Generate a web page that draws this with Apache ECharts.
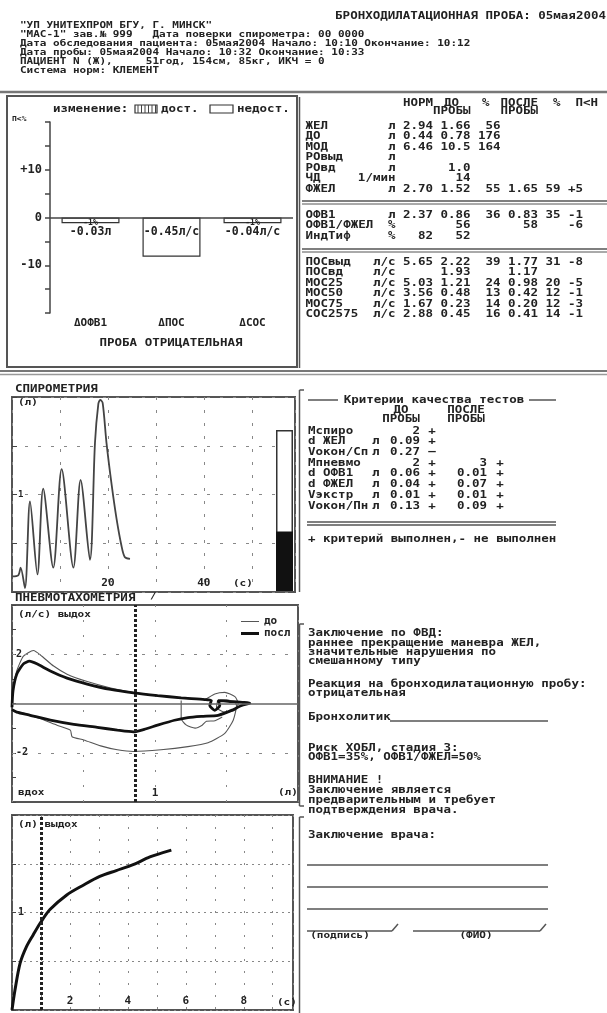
<!DOCTYPE html>
<html><head><meta charset="utf-8">
<script src="https://cdn.jsdelivr.net/npm/echarts@6/dist/echarts.min.js"></script>
<style>html,body{margin:0;padding:0;background:#fff}#c{width:607px;height:1013px}</style>
</head><body><div id="c"></div>
<script>
// ---------------- DATA ----------------
const headerTitle = 'БРОНХОДИЛАТАЦИОННАЯ ПРОБА: 05мая2004';
const headerLines = [
  '"УП УНИТЕХПРОМ БГУ, Г. МИНСК"',
  '"МАС-1" зав.№ 999   Дата поверки спирометра: 00 0000',
  'Дата обследования пациента: 05мая2004 Начало: 10:10 Окончание: 10:12',
  'Дата пробы: 05мая2004 Начало: 10:32 Окончание: 10:33',
  'ПАЦИЕНТ N (Ж),     51год, 154см, 85кг, ИКЧ = 0',
  'Система норм: КЛЕМЕНТ'
];
const barCats = ['ΔОФВ1', 'ΔПОС', 'ΔСОС'];
const barVals = [-1.2, -8.2, -1.2];
const barPct = ['-1%', '', '-1%'];
const barAbs = ['-0.03л', '-0.45л/с', '-0.04л/с'];
const barTicks = {'10': '+10', '0': '0', '-10': '-10'};

const tblHead1 = ['НОРМ', 'ДО', '%', 'ПОСЛЕ', '%', 'П<Н'];
const tblHead2 = ['ПРОБЫ', 'ПРОБЫ'];
const tblRowsA = [
  ['ЖЕЛ', 'л', '2.94', '1.66', '56', '', '', ''],
  ['ДО', 'л', '0.44', '0.78', '176', '', '', ''],
  ['МОД', 'л', '6.46', '10.5', '164', '', '', ''],
  ['РОвыд', 'л', '', '', '', '', '', ''],
  ['РОвд', 'л', '', '1.0', '', '', '', ''],
  ['ЧД', '1/мин', '', '14', '', '', '', ''],
  ['ФЖЕЛ', 'л', '2.70', '1.52', '55', '1.65', '59', '+5']
];
const tblRowsB = [
  ['ОФВ1', 'л', '2.37', '0.86', '36', '0.83', '35', '-1'],
  ['ОФВ1/ФЖЕЛ', '%', '', '56', '', '58', '', '-6'],
  ['ИндТиф', '%', '82', '52', '', '', '', '']
];
const tblRowsC = [
  ['ПОСвыд', 'л/с', '5.65', '2.22', '39', '1.77', '31', '-8'],
  ['ПОСвд', 'л/с', '', '1.93', '', '1.17', '', ''],
  ['МОС25', 'л/с', '5.03', '1.21', '24', '0.98', '20', '-5'],
  ['МОС50', 'л/с', '3.56', '0.48', '13', '0.42', '12', '-1'],
  ['МОС75', 'л/с', '1.67', '0.23', '14', '0.20', '12', '-3'],
  ['СОС2575', 'л/с', '2.88', '0.45', '16', '0.41', '14', '-1']
];
const critTitle = 'Критерии качества тестов';
const critHead = ['ДО', 'ПРОБЫ', 'ПОСЛЕ', 'ПРОБЫ'];
const critRows = [
  ['Мспиро', '', '2', '+', '', ''],
  ['d ЖЕЛ', 'л', '0.09', '+', '', ''],
  ['Vокон/Сп', 'л', '0.27', '—', '', ''],
  ['Мпневмо', '', '2', '+', '3', '+'],
  ['d ОФВ1', 'л', '0.06', '+', '0.01', '+'],
  ['d ФЖЕЛ', 'л', '0.04', '+', '0.07', '+'],
  ['Vэкстр', 'л', '0.01', '+', '0.01', '+'],
  ['Vокон/Пн', 'л', '0.13', '+', '0.09', '+']
];
const critNote = '+ критерий выполнен,- не выполнен';
const conclLines = [
  'Заключение по ФВД:', 'раннее прекращение маневра ЖЕЛ,', 'значительные нарушения по', 'смешанному типу',
  'Реакция на бронходилатационную пробу:', 'отрицательная', 'Бронхолитик',
  'Риск ХОБЛ, стадия 3:', 'ОФВ1=35%, ОФВ1/ФЖЕЛ=50%',
  'ВНИМАНИЕ !', 'Заключение является', 'предварительным и требует', 'подтверждения врача.'
];
const doctorTexts = ['Заключение врача:', '(подпись)', '(ФИО)'];
const loopNames = ['до', 'посл'];

// spirometry: time (s) and volume (l)
const spiroT = [0.1, 1.3, 1.8, 2.7, 3.75, 5.3, 6.5, 8.6, 10.35, 12.8, 14.3, 16.25, 17.3, 18.0, 18.4, 18.9, 19.7, 20.8, 21.8, 22.8, 23.5, 24.6];
const spiroV = [0.16, 0.17, 0.25, 0.04, 0.93, 0.18, 1.06, 0.25, 1.26, 0.25, 1.15, 0.33, 1.53, 1.93, 1.97, 1.94, 1.53, 1.09, 0.75, 0.48, 0.36, 0.34];
const spiroLevel = [0.37];

// flow-volume loops: [volume l, flow l/s]
const loopDo = [
  [0.00,-0.01],[0.007,0.52],[0.033,1.32],[0.08,1.92],[0.15,2.15],[0.209,1.92],[0.291,1.52],[0.385,1.19],[0.526,0.89],
  [0.69,0.63],[0.85,0.45],[1.02,0.32],[1.183,0.23],[1.347,0.17],[1.418,0.39],[1.488,0.45],[1.559,0.28],[1.582,-0.01],
  [1.559,-0.28],[1.488,-0.35],[1.43,-0.15],[1.44,0.10],[1.50,0.15],[1.56,0.05],[1.57,-0.08],[1.547,-0.68],[1.488,-1.21],
  [1.371,-1.59],[1.23,-1.75],[1.042,-1.88],[0.85,-1.95],[0.737,-1.88],[0.62,-1.72],[0.502,-1.48],[0.42,-1.35],[0.408,-1.08],
  [0.315,-0.88],[0.197,-0.61],[0.08,-0.39],[0.0,-0.31],
  ['-','-'],
  [1.183,0.12],[1.183,-0.61],[1.22,-0.88],[1.28,-1.0],[1.33,-0.88],[1.36,-0.72],[1.42,-0.70],[1.47,-0.55]
];
const loopPosl = [
  [0.0,-0.15],[0.007,0.52],[0.033,1.19],[0.08,1.61],[0.122,1.72],[0.174,1.61],[0.268,1.32],[0.385,1.03],[0.526,0.79],
  [0.69,0.57],[0.85,0.43],[1.018,0.32],[1.183,0.23],[1.347,0.16],[1.394,0.12],[1.383,-0.08],[1.418,-0.28],[1.453,-0.08],
  [1.441,0.12],[1.512,0.09],[1.664,0.01],[1.606,-0.08],[1.535,-0.28],[1.441,-0.48],[1.324,-0.52],[1.23,-0.57],[1.136,-0.68],
  [1.018,-0.88],[0.925,-1.05],[0.85,-1.15],[0.737,-1.08],[0.596,-0.97],[0.432,-0.85],[0.268,-0.68],[0.127,-0.48],
  [0.033,-0.35],[0.0,-0.25]
];
const fev1Volume = 0.86;
// volume-time curve
const vtT = [0, 0.1, 0.28, 0.5, 0.73, 0.97, 1.31, 1.89, 2.46, 3.03, 3.6, 4.18, 4.76, 5.5];
const vtV = [0, 0.2, 0.48, 0.65, 0.77, 0.89, 1.03, 1.18, 1.28, 1.37, 1.43, 1.49, 1.57, 1.64];
const vtMarkT = 1;

// ---------------- DRAWING ----------------
const MONO = '"DejaVu Sans Mono", "Liberation Mono", monospace';
const INK = '#222';
function tx(x, y, s, o) {
  o = o || {}; const sz = o.size || 12.5; const al = o.align || 'left';
  return {type: 'text', x: x, y: y, scaleY: o.sy || 0.8, silent: true, z: 5,
    style: {text: s, font: 'bold ' + sz + 'px ' + MONO, fill: o.color || INK,
      textAlign: al, align: al, textVerticalAlign: 'middle', verticalAlign: 'middle'}};
}
function ln(x1, y1, x2, y2, o) {
  o = o || {};
  return {type: 'line', silent: true, z: 4, shape: {x1: x1, y1: y1, x2: x2, y2: y2},
    style: {stroke: o.color || '#555', lineWidth: o.w || 1.5}};
}
function rc(x, y, w, h, o) {
  o = o || {};
  return {type: 'rect', silent: true, z: 4, shape: {x: x, y: y, width: w, height: h},
    style: {fill: o.fill || 'rgba(0,0,0,0)', stroke: o.color || '#555', lineWidth: o.w || 1.5}};
}
const g = [];
// header
g.push(tx(606, 16, headerTitle, {align: 'right'}));
const hy = [26, 35, 44, 53, 62, 71];
headerLines.forEach((s, i) => g.push(tx(20, hy[i], s, {size: 11})));
g.push(ln(0, 92, 607, 92, {w: 2.5, color: '#777'}));
// bar panel
g.push(rc(7, 96, 290, 271, {w: 2}));
g.push(tx(53, 109, 'изменение:'));
g.push(rc(135, 105, 22, 8, {w: 1.2, color: '#333'}));
for (let k = 0; k < 6; k++) g.push(ln(138 + k * 3.5, 105, 138 + k * 3.5, 113, {w: 1, color: '#444'}));
g.push(tx(161, 109, 'дост.'));
g.push(rc(210, 105, 23, 8, {w: 1.2, color: '#333'}));
g.push(tx(237, 109, 'недост.'));
g.push(tx(12, 119, 'П<%', {size: 8, sy: 0.9}));
g.push(tx(171, 343, 'ПРОБА ОТРИЦАТЕЛЬНАЯ', {align: 'center'}));
g.push(ln(0, 371, 607, 371, {w: 2, color: '#777'}));
g.push(ln(0, 374.5, 607, 374.5, {w: 1.5, color: '#999'}));
// table
g.push(ln(299.5, 97, 299.5, 368));
const h1x = [403, 444, 482, 500.5, 553, 575.5];
tblHead1.forEach((s, i) => g.push(tx(h1x[i], 103, s)));
g.push(tx(433, 111, tblHead2[0])); g.push(tx(500.5, 111, tblHead2[1]));
const colR = [395.5, 433, 470.5, 500.5, 538, 560.5, 583];
function tblRow(r, y) {
  g.push(tx(305.5, y, r[0]));
  for (let c = 1; c < r.length; c++) if (r[c]) g.push(tx(colR[c - 1], y, r[c], {align: 'right'}));
}
const yA = [126, 136.5, 147, 157.5, 168, 178.5, 189];
tblRowsA.forEach((r, i) => tblRow(r, yA[i]));
g.push(ln(302, 201, 607, 201)); g.push(ln(302, 204, 607, 204, {w: 1}));
const yB = [215, 225.5, 236];
tblRowsB.forEach((r, i) => tblRow(r, yB[i]));
g.push(ln(302, 249, 607, 249)); g.push(ln(302, 252, 607, 252, {w: 1}));
const yC = [262, 272.5, 283, 293.5, 304, 314.5];
tblRowsC.forEach((r, i) => tblRow(r, yC[i]));
// spirometry labels
g.push(tx(15, 389, 'СПИРОМЕТРИЯ'));
g.push(tx(18, 403, '(л)', {size: 11}));
g.push(tx(233, 584, '(с)', {size: 11}));
// criteria
g.push(ln(299.5, 390, 299.5, 592)); g.push(ln(299.5, 390, 304, 390));
g.push(ln(308, 400, 338, 400)); g.push(ln(529, 400, 556, 400));
g.push(tx(434, 400, critTitle, {align: 'center'}));
g.push(tx(401, 410, critHead[0], {align: 'center'})); g.push(tx(401, 419, critHead[1], {align: 'center'}));
g.push(tx(466, 410, critHead[2], {align: 'center'})); g.push(tx(466, 419, critHead[3], {align: 'center'}));
critRows.forEach((r, i) => {
  const y = 431 + i * 10.7;
  g.push(tx(308, y, r[0]));
  if (r[1]) g.push(tx(372, y, r[1]));
  if (r[2]) g.push(tx(420, y, r[2], {align: 'right'}));
  if (r[3]) g.push(tx(432, y, r[3], {align: 'center'}));
  if (r[4]) g.push(tx(487, y, r[4], {align: 'right'}));
  if (r[5]) g.push(tx(500, y, r[5], {align: 'center'}));
});
g.push(ln(307, 522, 556, 522)); g.push(ln(307, 525, 556, 525));
g.push(tx(308, 539, critNote));
// pneumo labels
g.push(tx(15, 598, 'ПНЕВМОТАХОМЕТРИЯ'));
g.push(tx(150, 597, '/', {size: 11}));
g.push(tx(18, 615, '(л/с) выдох', {size: 11}));
g.push(tx(18, 793, 'вдох', {size: 11}));
g.push(tx(278, 793, '(л)', {size: 11}));
// conclusion
g.push(ln(299.5, 624, 299.5, 806)); g.push(ln(299.5, 624, 304, 624)); g.push(ln(299.5, 806, 304, 806));
const cy = [633, 643, 652, 661, 684, 693, 717, 748, 757, 780, 790, 800, 810];
conclLines.forEach((s, i) => g.push(tx(308, cy[i], s)));
g.push(ln(390, 721, 548, 721));
// doctor
g.push(ln(299.5, 817, 299.5, 1013)); g.push(ln(299.5, 817, 304, 817));
g.push(tx(308, 835, doctorTexts[0]));
[865, 887, 909].forEach(y => g.push(ln(307, y, 548, y)));
g.push(ln(307, 931, 392, 931)); g.push(ln(392, 931, 398, 924));
g.push(ln(413, 931, 540, 931)); g.push(ln(540, 931, 546, 924));
g.push(tx(340, 936, doctorTexts[1], {align: 'center', size: 11}));
g.push(tx(476, 936, doctorTexts[2], {align: 'center', size: 11}));
// volume-time labels
g.push(tx(18, 825, '(л) выдох', {size: 11}));
g.push(tx(277, 1003, '(с)', {size: 11}));

const lblFont = {fontFamily: MONO, fontWeight: 'bold', fontSize: 11, color: INK};
const dashGrid = {show: true, lineStyle: {type: [3, 10], color: '#888', width: 1}};
const boxGrid = {show: true, borderColor: '#555', borderWidth: 2, backgroundColor: 'rgba(0,0,0,0)'};
const iconThin = 'path://M0,0L18,0L18,0.01L0,0.01Z M0,3.5L18,3.5L18,4.6L0,4.6Z M0,7.99L18,7.99L18,8L0,8Z';
const iconThick = 'path://M0,0L18,0L18,0.01L0,0.01Z M0,2.6L18,2.6L18,5.4L0,5.4Z M0,7.99L18,7.99L18,8L0,8Z';

const option = {
  animation: false,
  backgroundColor: '#fff',
  textStyle: {fontFamily: MONO},
  graphic: {elements: g},
  legend: {
    data: [{name: loopNames[0], icon: iconThin}, {name: loopNames[1], icon: iconThick}],
    left: 236, top: 611, orient: 'vertical',
    itemWidth: 18, itemHeight: 8, itemGap: 1,
    textStyle: Object.assign({lineHeight: 10}, lblFont)
  },
  grid: [
    {left: 50, top: 122, width: 243, height: 191},
    Object.assign({left: 12, top: 397, width: 283, height: 195}, boxGrid),
    {left: 276, top: 430, width: 17, height: 161},
    Object.assign({left: 12, top: 605, width: 286, height: 197}, boxGrid),
    Object.assign({left: 12, top: 815, width: 281, height: 195}, boxGrid)
  ],
  xAxis: [
    {gridIndex: 0, type: 'category', data: barCats, axisLine: {show: false}, axisTick: {show: false},
      axisLabel: Object.assign({margin: 5}, lblFont)},
    {gridIndex: 1, type: 'value', min: 0, max: 59, interval: 10, axisLine: {show: false}, axisTick: {show: false},
      splitLine: dashGrid,
      axisLabel: Object.assign({inside: true, margin: 3, formatter: v => (v === 20 || v === 40) ? String(v) : ''}, lblFont)},
    {gridIndex: 2, type: 'category', data: ['V'], show: false},
    {gridIndex: 3, type: 'value', min: 0, max: 2, interval: 0.5, axisLine: {show: false, onZero: false}, axisTick: {show: false},
      splitLine: {show: true, lineStyle: {type: [2, 13], color: '#888'}},
      axisLabel: Object.assign({inside: true, margin: 3, formatter: v => v === 1 ? '1' : ''}, lblFont)},
    {gridIndex: 4, type: 'value', min: 0, max: 9.7, interval: 1, axisLine: {show: false}, axisTick: {show: false},
      splitLine: {show: true, lineStyle: {type: [2, 10], color: '#888'}},
      axisLabel: Object.assign({inside: true, margin: 3, formatter: v => [2, 4, 6, 8].indexOf(v) >= 0 ? String(v) : ''}, lblFont)}
  ],
  yAxis: [
    {gridIndex: 0, type: 'value', min: -20, max: 20, interval: 5,
      axisLine: {show: true, lineStyle: {color: '#444', width: 1.5}},
      axisTick: {show: true, length: 5, lineStyle: {color: '#444', width: 1.5}}, splitLine: {show: false},
      axisLabel: Object.assign({margin: 8, formatter: v => barTicks[String(v)] || ''}, lblFont, {fontSize: 12})},
    {gridIndex: 1, type: 'value', min: 0, max: 2, interval: 0.5, axisLine: {show: false},
      axisTick: {show: true, inside: true, length: 5, lineStyle: {color: '#444'}}, splitLine: dashGrid,
      axisLabel: Object.assign({inside: true, margin: 6, formatter: v => v === 1 ? '1' : ''}, lblFont, {fontSize: 9})},
    {gridIndex: 2, type: 'value', min: 0, max: 1, show: false},
    {gridIndex: 3, type: 'value', min: -4, max: 4, interval: 1, axisLine: {show: false, onZero: false},
      axisTick: {show: true, inside: true, length: 4, lineStyle: {color: '#444'}}, splitLine: {show: false},
      axisLabel: Object.assign({inside: true, margin: 4, formatter: v => v === 2 ? '2' : (v === -2 ? '-2' : '')}, lblFont, {fontSize: 10})},
    {gridIndex: 4, type: 'value', min: 0, max: 2, interval: 0.5, axisLine: {show: false},
      axisTick: {show: true, inside: true, length: 4, lineStyle: {color: '#444'}},
      splitLine: {show: true, lineStyle: {type: [2, 4], color: '#888'}},
      axisLabel: Object.assign({inside: true, margin: 6, formatter: v => v === 1 ? '1' : ''}, lblFont, {fontSize: 10})}
  ],
  series: [
    {type: 'bar', xAxisIndex: 0, yAxisIndex: 0, data: barVals, barWidth: 58,
      itemStyle: {color: '#fff', borderColor: '#333', borderWidth: 1.2},
      label: {show: true, position: 'insideTop', distance: 1,
        formatter: p => '{a|' + (barPct[p.dataIndex] || ' ') + '}\n{b|' + barAbs[p.dataIndex] + '}',
        rich: {a: {fontFamily: MONO, fontWeight: 'bold', fontSize: 8, lineHeight: 8, color: INK},
          b: {fontFamily: MONO, fontWeight: 'bold', fontSize: 11.5, lineHeight: 11, color: INK}}},
      markLine: {silent: true, symbol: 'none', label: {show: false},
        lineStyle: {color: '#444', width: 1.5, type: 'solid'}, data: [{yAxis: 0}]}},
    {type: 'line', xAxisIndex: 1, yAxisIndex: 1, data: spiroT.map((t, i) => [t, spiroV[i]]),
      symbol: 'none', smooth: 0.3, lineStyle: {color: '#444', width: 1.8}},
    {type: 'bar', xAxisIndex: 2, yAxisIndex: 2, data: [1], barWidth: 17, barGap: '-100%',
      itemStyle: {color: '#fff', borderColor: '#333', borderWidth: 1.5}},
    {type: 'bar', xAxisIndex: 2, yAxisIndex: 2, data: spiroLevel, barWidth: 17, barGap: '-100%',
      itemStyle: {color: '#111'}},
    {type: 'line', name: loopNames[0], xAxisIndex: 3, yAxisIndex: 3, data: loopDo, symbol: 'none', smooth: 0.2,
      connectNulls: false, lineStyle: {color: '#555', width: 1.1}, itemStyle: {color: '#555'},
      markLine: {silent: true, symbol: 'none', label: {show: false}, data: [
        {yAxis: 2, lineStyle: {type: [3, 10], color: '#888', width: 1}},
        {yAxis: -2, lineStyle: {type: [3, 10], color: '#888', width: 1}},
        {yAxis: 0, lineStyle: {type: 'solid', color: '#666', width: 1.5}},
        {xAxis: fev1Volume, lineStyle: {type: [3, 2], color: '#222', width: 3}}
      ]}},
    {type: 'line', name: loopNames[1], xAxisIndex: 3, yAxisIndex: 3, data: loopPosl, symbol: 'none', smooth: 0.2,
      lineStyle: {color: '#111', width: 2.8}, itemStyle: {color: '#111'}},
    {type: 'line', xAxisIndex: 4, yAxisIndex: 4, data: vtT.map((t, i) => [t, vtV[i]]), symbol: 'none', smooth: 0.3,
      lineStyle: {color: '#111', width: 3},
      markLine: {silent: true, symbol: 'none', label: {show: false},
        data: [{xAxis: vtMarkT, lineStyle: {type: [3, 2], color: '#222', width: 3}}]}}
  ]
};
const chart = echarts.init(document.getElementById('c'));
chart.setOption(option);
</script></body></html>
